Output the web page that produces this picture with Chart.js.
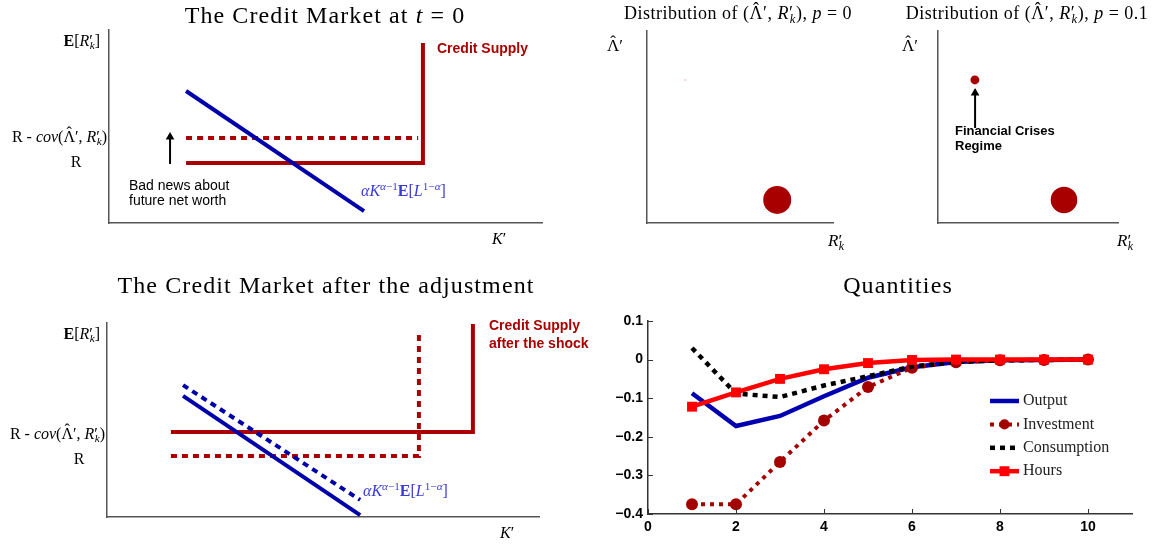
<!DOCTYPE html>
<html><head><meta charset="utf-8">
<script src="https://cdn.jsdelivr.net/npm/chart.js@4.4.1/dist/chart.umd.min.js"></script>
<style>
html,body{margin:0;padding:0;background:#fff;}
#wrap{position:relative;width:1160px;height:547px;overflow:hidden;background:#fff;}
canvas{position:absolute;}
.t{position:absolute;white-space:nowrap;line-height:1;color:#000;}
.serif{font-family:'Liberation Serif','Times New Roman',serif;}
.sans{font-family:'Liberation Sans',Arial,sans-serif;}
.c{transform:translate(-50%,-50%);}
.l{transform:translate(0,-50%);}
.r{transform:translate(-100%,-50%);}
.big{font-size:24px;letter-spacing:1.1px;}
.mid{font-size:18px;letter-spacing:0.5px;}
sub{font-size:0.7em;vertical-align:-0.3em;line-height:0;}
sup{font-size:0.7em;vertical-align:0.55em;line-height:0;}
sub.k{margin-left:-0.28em;}
.hat{position:relative;display:inline-block;}
.hat::before{content:'\02C6';position:absolute;left:0;right:0;text-align:center;top:-0.24em;}
.red{color:#aa0000;}
.blue{color:#3a3ad6;}
</style></head>
<body>
<div id="wrap">
<canvas id="c1" width="580" height="230" style="left:0;top:20px"></canvas>
<canvas id="c2" width="270" height="230" style="left:600px;top:20px"></canvas>
<canvas id="c3" width="270" height="230" style="left:880px;top:20px"></canvas>
<canvas id="c4" width="580" height="257" style="left:0;top:290px"></canvas>
<canvas id="c5" width="570" height="247" style="left:590px;top:300px"></canvas>

<!-- titles -->
<div class="t serif c big" style="left:325px;top:15px">The Credit Market at <i>t</i> = 0</div>
<div class="t serif c mid" style="left:738px;top:13px">Distribution of (<span class="hat">Λ</span>′, <i>R</i>′<sub class="k"><i>k</i></sub>), <i>p</i> = 0</div>
<div class="t serif c mid" style="left:1027px;top:13px">Distribution of (<span class="hat">Λ</span>′, <i>R</i>′<sub class="k"><i>k</i></sub>), <i>p</i> = 0.1</div>
<div class="t serif c big" style="left:326px;top:285px">The Credit Market after the adjustment</div>
<div class="t serif c big" style="left:898px;top:285px">Quantities</div>

<!-- panel 1 labels -->
<div class="t serif r" style="left:100px;top:41px;font-size:16px"><b>E</b>[<i>R</i>′<sub class="k"><i>k</i></sub>]</div>
<div class="t serif r" style="left:107px;top:137px;font-size:16px">R - <i>cov</i>(<span class="hat">Λ</span>′, <i>R</i>′<sub class="k"><i>k</i></sub>)</div>
<div class="t serif c" style="left:76px;top:162px;font-size:16px">R</div>
<div class="t sans l" style="left:129px;top:193px;font-size:14px;line-height:15px">Bad news about<br>future net worth</div>
<div class="t sans l red" style="left:437px;top:48px;font-size:14px;font-weight:bold">Credit Supply</div>
<div class="t serif l blue" style="left:361px;top:191px;font-size:16px"><i>αK</i><sup><i>α</i>−1</sup><b>E</b>[<i>L</i><sup>1−<i>α</i></sup>]</div>
<div class="t serif l" style="left:492px;top:239px;font-size:16px"><i>K</i>′</div>

<!-- panel 2/3 labels -->
<div class="t serif l" style="left:607px;top:45px;font-size:17px"><span class="hat">Λ</span>′</div>
<div class="t serif l" style="left:828px;top:240px;font-size:17px"><i>R</i>′<sub class="k"><i>k</i></sub></div>
<div class="t serif l" style="left:902px;top:45px;font-size:17px"><span class="hat">Λ</span>′</div>
<div class="t serif l" style="left:1117px;top:240px;font-size:17px"><i>R</i>′<sub class="k"><i>k</i></sub></div>
<div class="t sans l" style="left:955px;top:138px;font-size:13px;line-height:15px;font-weight:bold">Financial Crises<br>Regime</div>

<!-- panel 4 labels -->
<div class="t serif r" style="left:100px;top:334px;font-size:16px"><b>E</b>[<i>R</i>′<sub class="k"><i>k</i></sub>]</div>
<div class="t serif r" style="left:105px;top:434px;font-size:16px">R - <i>cov</i>(<span class="hat">Λ</span>′, <i>R</i>′<sub class="k"><i>k</i></sub>)</div>
<div class="t serif c" style="left:79px;top:459px;font-size:16px">R</div>
<div class="t sans l red" style="left:489px;top:334px;font-size:14px;line-height:18px;font-weight:bold">Credit Supply<br>after the shock</div>
<div class="t serif l blue" style="left:363px;top:491px;font-size:16px"><i>αK</i><sup><i>α</i>−1</sup><b>E</b>[<i>L</i><sup>1−<i>α</i></sup>]</div>
<div class="t serif l" style="left:500px;top:533px;font-size:16px"><i>K</i>′</div>
</div>

<script>
// ---------- DATA ----------
// Panel 1: credit market at t = 0 (abstract units, 0-10 on both axes)
const t0DemandX = [1.78, 5.89];
const t0DemandY = [6.84, 0.62];
const t0SupplyX = [1.78, 7.25, 7.25];
const t0SupplyY = [3.11, 3.11, 9.33];
const t0RiskSupplyX = [1.78, 7.14];
const t0RiskSupplyY = [4.40, 4.40];
const t0ArrowX = [1.41, 1.41];
const t0ArrowY = [3.06, 4.46];

// Panel 4: credit market after the adjustment (abstract units, 0-10)
const adjSupplyX = [1.48, 8.47, 8.47];
const adjSupplyY = [4.38, 4.38, 9.95];
const adjOldSupplyX = [1.48, 7.22, 7.22];
const adjOldSupplyY = [3.14, 3.14, 9.38];
const adjDemandX = [1.76, 5.86];
const adjDemandY = [6.24, 0.10];
const adjDemandShiftX = [1.76, 5.86];
const adjDemandShiftY = [6.80, 0.88];

// Panels 2-3: distribution of (Lambda', R'_k) (unit square)
const stateRk = [0.70, 0.205];       // normal state, crisis state
const stateLambda = [0.12, 0.745];
const probP0 = [1.0, 0.0];
const probP01 = [0.9, 0.1];
const crisisArrowX = [0.206, 0.206];
const crisisArrowY = [0.495, 0.677];

// Panel 5: quantities
const periods = [1, 2, 3, 4, 5, 6, 7, 8, 9, 10];
const output = [-0.087, -0.172, -0.146, -0.095, -0.047, -0.020, -0.006, -0.002, -0.001, 0];
const investment = [-0.375, -0.375, -0.265, -0.158, -0.071, -0.021, -0.007, -0.002, -0.001, 0];
const consumption = [0.030, -0.088, -0.097, -0.067, -0.043, -0.018, -0.006, -0.002, -0.001, 0];
const hours = [-0.122, -0.085, -0.050, -0.025, -0.009, -0.001, 0, 0, 0, 0];
const xTickValues = [0, 2, 4, 6, 8, 10];
const yTickValues = [0.1, 0, -0.1, -0.2, -0.3, -0.4];

// ---------- HELPERS ----------
const zip = (xs, ys) => xs.map((x, i) => ({x: x, y: ys[i]}));
const RED = '#aa0000', BLUE = '#0000aa';

function lineDs(xs, ys, color, width, dash) {
  return {data: zip(xs, ys), showLine: true, borderColor: color, backgroundColor: color,
    borderWidth: width, borderDash: dash || [], pointRadius: 0, tension: 0, clip: false,
    borderCapStyle: 'butt', borderJoinStyle: 'miter'};
}
function arrowDs(xs, ys) {
  const d = lineDs(xs, ys, '#000', 2);
  d.pointRadius = xs.map((_, i) => i === xs.length - 1 ? 5 : 0);
  d.pointStyle = 'triangle';
  d.pointBackgroundColor = '#000';
  d.pointBorderWidth = 0;
  return d;
}
function conceptScales(xmax, ymax) {
  const mk = (max, pos) => ({type: 'linear', position: pos, min: 0, max: max,
    ticks: {display: false}, grid: {display: false, drawTicks: false, tickLength: 0},
    border: {display: true, color: '#555', width: 1.5}});
  return {x: mk(xmax, 'bottom'), y: mk(ymax, 'left')};
}
function baseOptions(padding, scales) {
  return {responsive: false, animation: false, events: [],
    layout: {padding: padding, autoPadding: false},
    plugins: {legend: {display: false}, tooltip: {enabled: false}, title: {display: false}},
    scales: scales};
}

// ---------- PANEL 1 ----------
new Chart(document.getElementById('c1'), {
  type: 'scatter',
  data: {datasets: [
    lineDs(t0DemandX, t0DemandY, BLUE, 4),
    lineDs(t0SupplyX, t0SupplyY, RED, 4),
    lineDs(t0RiskSupplyX, t0RiskSupplyY, RED, 4, [6, 5]),
    arrowDs(t0ArrowX, t0ArrowY)
  ]},
  options: baseOptions({left: 109, right: 38, top: 10, bottom: 27}, conceptScales(10, 10))
});

// ---------- PANELS 2 & 3 ----------
function distDataset(probs) {
  return {data: zip(stateRk, stateLambda), showLine: false, clip: false,
    pointStyle: 'circle',
    pointRadius: probs.map(p => p > 0 ? 14 * Math.sqrt(p) : 0.8),
    pointBackgroundColor: probs.map(p => p > 0 ? '#a80000' : 'rgba(235,150,150,0.9)'),
    pointBorderWidth: 0};
}
new Chart(document.getElementById('c2'), {
  type: 'scatter',
  data: {datasets: [distDataset(probP0)]},
  options: baseOptions({left: 47, right: 37, top: 11, bottom: 27}, conceptScales(1, 1))
});
new Chart(document.getElementById('c3'), {
  type: 'scatter',
  data: {datasets: [distDataset(probP01), arrowDs(crisisArrowX, crisisArrowY)]},
  options: baseOptions({left: 58, right: 32, top: 11, bottom: 27}, conceptScales(1, 1))
});

// ---------- PANEL 4 ----------
new Chart(document.getElementById('c4'), {
  type: 'scatter',
  data: {datasets: [
    lineDs(adjDemandX, adjDemandY, BLUE, 4),
    lineDs(adjDemandShiftX, adjDemandShiftY, BLUE, 4, [6, 5]),
    lineDs(adjSupplyX, adjSupplyY, RED, 4),
    lineDs(adjOldSupplyX, adjOldSupplyY, RED, 4, [6, 5])
  ]},
  options: baseOptions({left: 107, right: 41, top: 33, bottom: 30}, conceptScales(10, 10))
});

// ---------- PANEL 5 ----------
const fmtY = v => { if (Math.abs(v) < 1e-9) return '0'; const s = Math.abs(v).toFixed(1); return v < 0 ? '\u2212' + s : s; };
const tickFont = {family: "'Liberation Sans', Arial, sans-serif", weight: 'bold', size: 14};

const inwardTicks = {
  id: 'inwardTicks',
  afterDatasetsDraw(chart) {
    const {ctx, chartArea: a} = chart;
    const sx = chart.scales.x, sy = chart.scales.y;
    ctx.save();
    ctx.strokeStyle = '#333'; ctx.lineWidth = 1;
    sx.ticks.forEach(t => { const px = Math.round(sx.getPixelForValue(t.value)) + 0.5;
      ctx.beginPath(); ctx.moveTo(px, a.bottom); ctx.lineTo(px, a.bottom - 5); ctx.stroke(); });
    sy.ticks.forEach(t => { const py = Math.round(sy.getPixelForValue(t.value)) + 0.5;
      ctx.beginPath(); ctx.moveTo(a.left, py); ctx.lineTo(a.left + 5, py); ctx.stroke(); });
    ctx.restore();
  }
};
const innerLegend = {
  id: 'innerLegend',
  afterDraw(chart) {
    const {ctx, chartArea: a} = chart;
    ctx.save();
    chart.data.datasets.forEach((ds, i) => {
      const y = a.top + 80 + i * 23.4;
      const x0 = a.left + 342, x1 = a.left + 371;
      ctx.strokeStyle = ds.borderColor; ctx.lineWidth = ds.borderWidth;
      ctx.setLineDash(ds.borderDash || []);
      ctx.beginPath(); ctx.moveTo(x0, y); ctx.lineTo(x1, y); ctx.stroke();
      ctx.setLineDash([]);
      const r = ds.pointRadius || 0;
      if (r > 0) {
        const xm = (x0 + x1) / 2;
        ctx.fillStyle = ds.pointBackgroundColor;
        ctx.beginPath();
        if (ds.pointStyle === 'rect') { const s = r * Math.SQRT1_2; ctx.rect(xm - s, y - s, 2 * s, 2 * s); }
        else { ctx.arc(xm, y, r * 0.85, 0, Math.PI * 2); }
        ctx.fill();
      }
      ctx.fillStyle = '#222';
      ctx.font = "16px 'Liberation Serif', 'Times New Roman', serif";
      ctx.textBaseline = 'middle'; ctx.textAlign = 'left';
      ctx.fillText(ds.label, x1 + 4, y);
    });
    ctx.restore();
  }
};

new Chart(document.getElementById('c5'), {
  type: 'line',
  data: {datasets: [
    {label: 'Output', data: zip(periods, output), borderColor: '#0000b0', backgroundColor: '#0000b0',
      borderWidth: 4.5, pointRadius: 0, order: 4},
    {label: 'Investment', data: zip(periods, investment), borderColor: '#a50000', backgroundColor: '#a50000',
      borderWidth: 4, borderDash: [4, 5], pointRadius: 6, pointStyle: 'circle',
      pointBackgroundColor: '#a50000', pointBorderWidth: 0, order: 3},
    {label: 'Consumption', data: zip(periods, consumption), borderColor: '#000', backgroundColor: '#000',
      borderWidth: 4.5, borderDash: [5, 5], pointRadius: 0, order: 2},
    {label: 'Hours', data: zip(periods, hours), borderColor: '#ff0000', backgroundColor: '#ff0000',
      borderWidth: 4.5, pointRadius: 7, pointStyle: 'rect',
      pointBackgroundColor: '#ff0000', pointBorderWidth: 0, order: 1}
  ]},
  options: Object.assign(baseOptions({left: 18, right: 28, top: 21, bottom: 8}, {
    x: {type: 'linear', position: 'bottom', min: 0, max: 11,
      afterBuildTicks: s => { s.ticks = xTickValues.map(v => ({value: v})); },
      afterFit: s => { s.height = 25; },
      ticks: {font: tickFont, color: '#000', padding: 5, maxRotation: 0, callback: v => String(v)},
      grid: {display: false, drawTicks: false, tickLength: 0}, border: {display: true, color: '#333', width: 1.5}},
    y: {type: 'linear', position: 'left', min: -0.4, max: 0.1,
      afterBuildTicks: s => { s.ticks = yTickValues.map(v => ({value: v})); },
      afterFit: s => { s.width = 40; },
      ticks: {font: tickFont, color: '#000', padding: 5, callback: v => fmtY(v)},
      grid: {display: false, drawTicks: false, tickLength: 0}, border: {display: true, color: '#333', width: 1.5}}
  }), {elements: {line: {tension: 0, borderCapStyle: 'butt'}}}),
  plugins: [inwardTicks, innerLegend]
});
</script>
</body></html>
